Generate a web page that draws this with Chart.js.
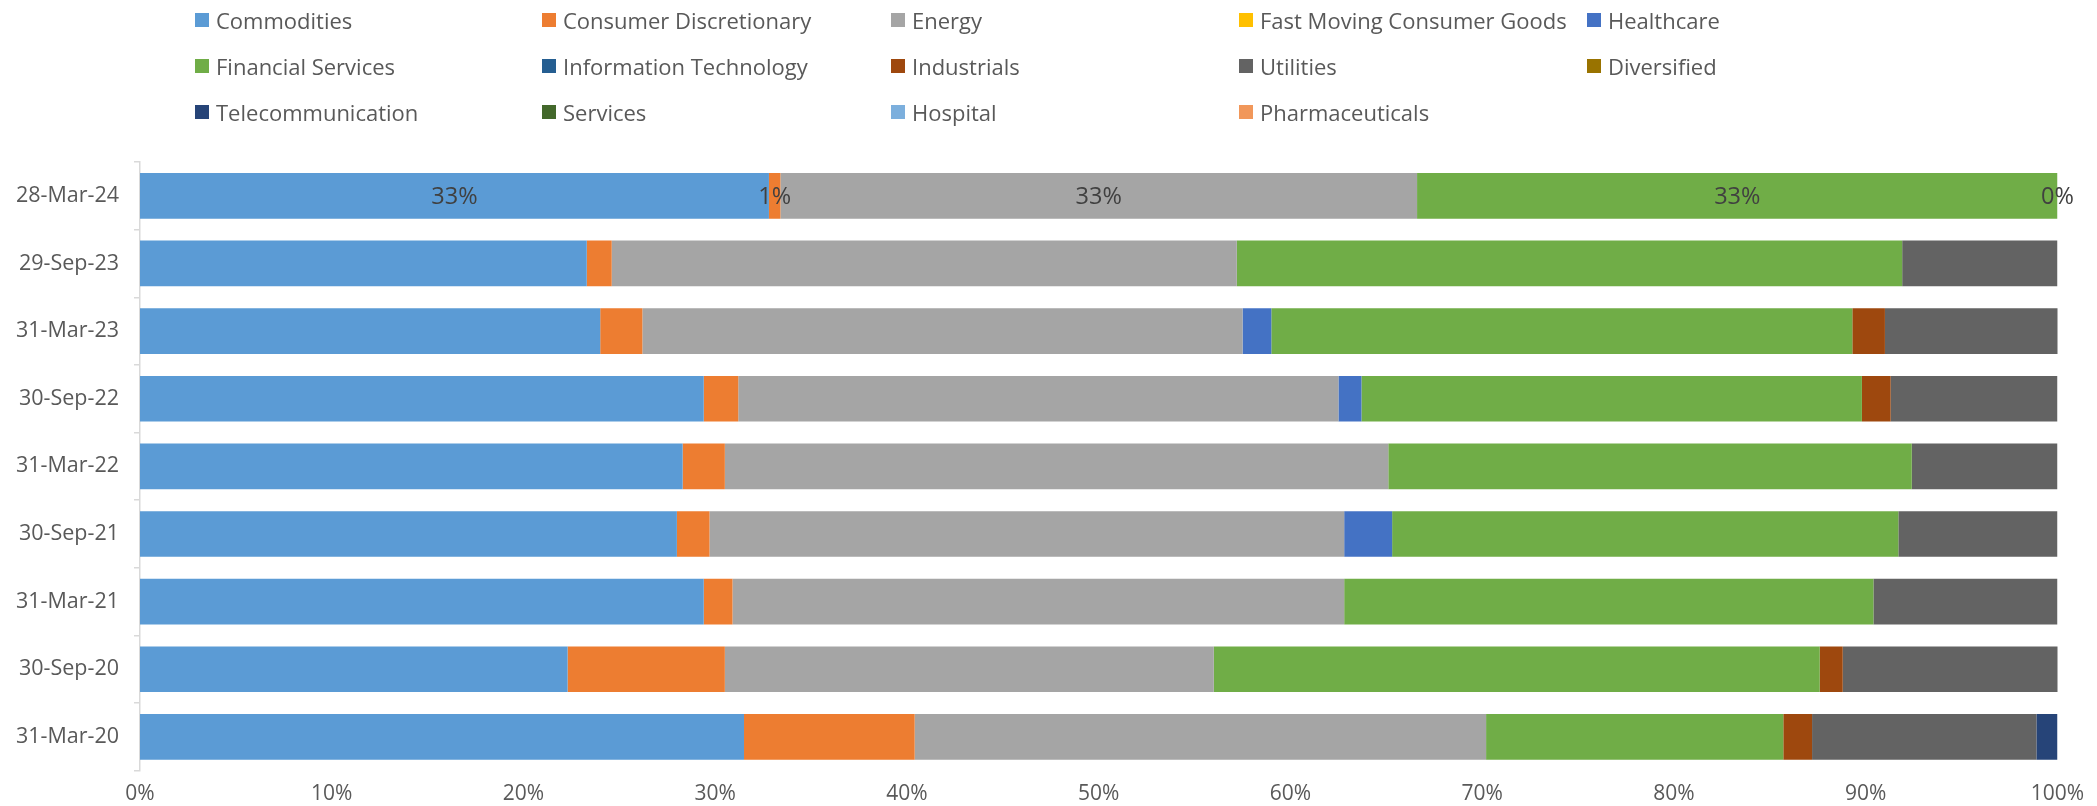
<!DOCTYPE html>
<html>
<head>
<meta charset="utf-8">
<script src="https://cdn.jsdelivr.net/npm/chart.js@4.4.1/dist/chart.umd.min.js"></script>
<style>
    html, body { margin: 0; padding: 0; background: #fff; overflow: hidden; }
    #wrap { position: relative; width: 2097px; height: 806px; }
    #sectorChart { display: block; }
    #legend { position: absolute; left: 0; top: 0; width: 2097px; height: 140px; }
    .legend-item {
        position: absolute;
        display: flex;
        align-items: center;
        font-family: "Open Sans", sans-serif;
        font-size: 22px;
        color: #595959;
        white-space: nowrap;
        height: 30px;
    }
    .legend-box { width: 14px; height: 14px; margin-right: 7px; flex: none; }
</style>
</head>
<body>
<div id="wrap">
    <div id="legend"></div>
    <canvas id="sectorChart" width="2097" height="806"></canvas>
</div>
<script>
// Period labels, top to bottom
const periods = ['28-Mar-24', '29-Sep-23', '31-Mar-23', '30-Sep-22', '31-Mar-22',
                 '30-Sep-21', '31-Mar-21', '30-Sep-20', '31-Mar-20'];

// Sector weights (%) per period
const commodities      = [32.8, 23.3, 24.0, 29.4, 28.3, 28.0, 29.4, 22.3, 31.5];
const consumerDisc     = [0.6, 1.3, 2.2, 1.8, 2.2, 1.7, 1.5, 8.2, 8.9];
const energy           = [33.2, 32.6, 31.3, 31.3, 34.6, 33.1, 31.9, 25.5, 29.8];
const fmcg             = [null, null, null, null, null, null, null, null, null];
const healthcare       = [null, null, 1.5, 1.2, null, 2.5, null, null, null];
const financialServices = [33.4, 34.7, 30.3, 26.1, 27.3, 26.4, 27.6, 31.6, 15.5];
const infoTech         = [null, null, null, null, null, null, null, null, null];
const industrials      = [null, null, 1.7, 1.5, null, null, null, 1.2, 1.5];
const utilities        = [0, 8.1, 9.1, 8.7, 7.6, 8.3, 9.6, 11.3, 11.7];
const diversified      = [null, null, null, null, null, null, null, null, null];
const telecom          = [null, null, null, null, null, null, null, null, 1.1];
const services         = [null, null, null, null, null, null, null, null, null];
const hospital         = [null, null, null, null, null, null, null, null, null];
const pharma           = [null, null, null, null, null, null, null, null, null];

const xTicks = [0, 10, 20, 30, 40, 50, 60, 70, 80, 90, 100];

const FONT = '"Open Sans", sans-serif';
const TEXT_COLOR = '#595959';

function series(label, data, color) {
    return {
        label: label,
        data: data,
        backgroundColor: color,
        borderWidth: 0,
        barPercentage: 0.675,
        categoryPercentage: 1
    };
}

const datasets = [
    series('Commodities', commodities, '#5B9BD5'),
    series('Consumer Discretionary', consumerDisc, '#ED7D31'),
    series('Energy', energy, '#A5A5A5'),
    series('Fast Moving Consumer Goods', fmcg, '#FFC000'),
    series('Healthcare', healthcare, '#4472C4'),
    series('Financial Services', financialServices, '#70AD47'),
    series('Information Technology', infoTech, '#255E91'),
    series('Industrials', industrials, '#9E480E'),
    series('Utilities', utilities, '#636363'),
    series('Diversified', diversified, '#997300'),
    series('Telecommunication', telecom, '#264478'),
    series('Services', services, '#43682B'),
    series('Hospital', hospital, '#7CAFDD'),
    series('Pharmaceuticals', pharma, '#F1975A')
];

/**
 * Draws value labels on the first (latest) period only.
 */
const firstRowLabels = {
    id: 'firstRowLabels',
    afterDatasetsDraw(chart) {
        const ctx = chart.ctx;
        ctx.save();
        ctx.font = '23.5px ' + FONT;
        ctx.fillStyle = '#404040';
        ctx.textAlign = 'center';
        ctx.textBaseline = 'middle';
        chart.data.datasets.forEach((ds, i) => {
            const v = ds.data[0];
            if (v === null || v === undefined) return;
            const bar = chart.getDatasetMeta(i).data[0];
            if (!bar) return;
            const cx = (bar.x + bar.base) / 2;
            ctx.fillText(Math.round(v) + '%', cx, bar.y + 1);
        });
        ctx.restore();
    }
};

/**
 * Builds the five-column legend above the chart from the datasets.
 */
function buildLegend(chart) {
    const legend = document.getElementById('legend');
    const colX = [195, 542, 891, 1239, 1587];
    const rowY = [19.5, 65.5, 111.5];
    chart.data.datasets.forEach((ds, i) => {
        const item = document.createElement('div');
        item.className = 'legend-item';
        item.style.left = colX[i % 5] + 'px';
        item.style.top = (rowY[Math.floor(i / 5)] - 15) + 'px';
        const box = document.createElement('span');
        box.className = 'legend-box';
        box.style.background = ds.backgroundColor;
        const text = document.createElement('span');
        text.textContent = ds.label;
        item.appendChild(box);
        item.appendChild(text);
        legend.appendChild(item);
    });
}

const chart = new Chart(document.getElementById('sectorChart'), {
    type: 'bar',
    data: { labels: periods, datasets: datasets },
    plugins: [firstRowLabels],
    options: {
        indexAxis: 'y',
        responsive: false,
        animation: false,
        layout: { padding: { top: 162, right: 39.5, left: 0, bottom: 0 } },
        plugins: {
            legend: { display: false },
            tooltip: { enabled: false }
        },
        scales: {
            x: {
                stacked: true,
                min: 0,
                max: 100,
                afterBuildTicks(scale) {
                    scale.ticks = xTicks.map(v => ({ value: v }));
                },
                afterFit(scale) { scale.height = 35.3; },
                grid: { display: false },
                border: { display: false },
                ticks: {
                    padding: 3,
                    color: TEXT_COLOR,
                    font: { family: FONT, size: 21 },
                    callback: v => v + '%'
                }
            },
            y: {
                stacked: true,
                afterFit(scale) { scale.width = 140; },
                grid: {
                    display: true,
                    drawOnChartArea: false,
                    tickLength: 6,
                    color: '#D9D9D9',
                    lineWidth: 1.5
                },
                border: { display: true, color: '#D9D9D9', width: 1.5 },
                ticks: {
                    padding: 15,
                    color: TEXT_COLOR,
                    font: { family: FONT, size: 21.5 }
                }
            }
        }
    }
});

buildLegend(chart);
</script>
</body>
</html>
